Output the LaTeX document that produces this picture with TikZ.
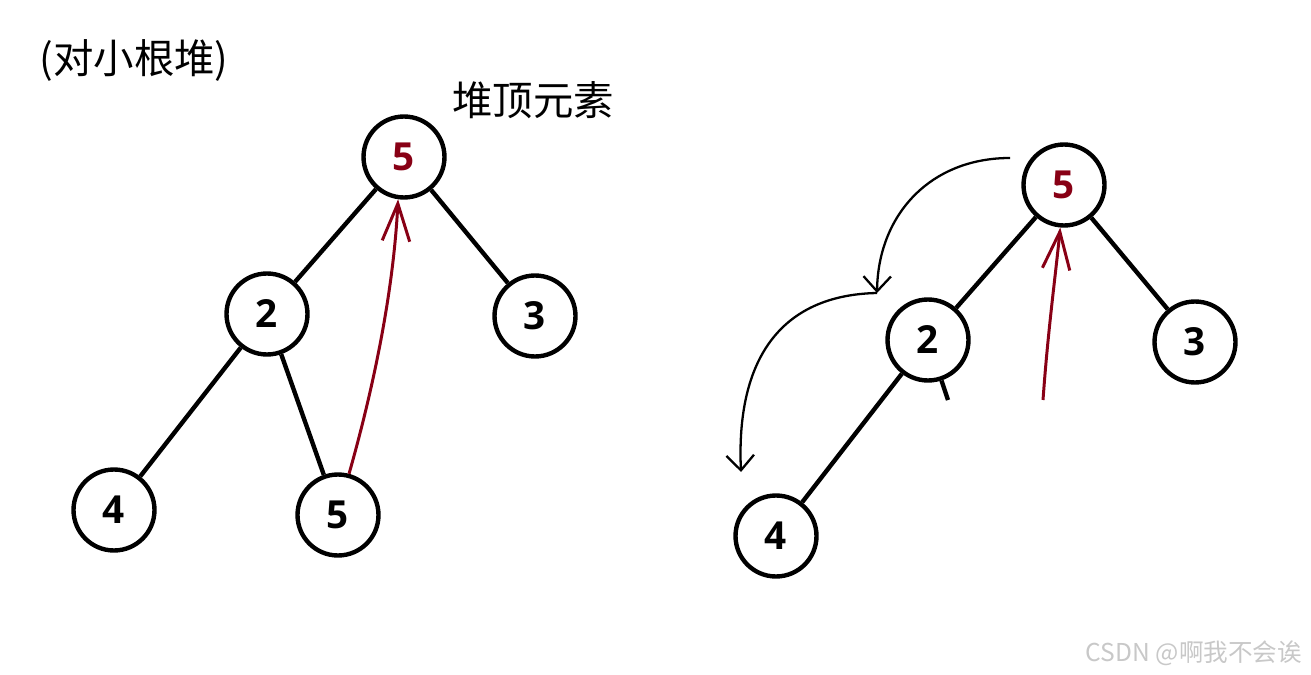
\documentclass[tikz,border=0pt]{standalone}
\usepackage{fontspec}
\setmainfont{Open Sans}
\newfontfamily\cjk{Noto Sans CJK SC}
\usetikzlibrary{arrows.meta}
\definecolor{HeapRed}{RGB}{136,0,21}
\definecolor{MarkGray}{RGB}{200,200,200}

\begin{document}
\begin{tikzpicture}[x=0.02cm, y=-0.02cm,
    tnode/.style={draw, circle, line width=2.5pt, fill=white, minimum size=1.62cm, inner sep=0pt, font=\bfseries\fontsize{22}{26}\selectfont},
    tedge/.style={line width=2.5pt},
    cnlabel/.style={font=\cjk\fontsize{23}{27}\selectfont, inner sep=0pt},
    redarrow/.style={draw=HeapRed, line width=1.7pt, -{Straight Barb[length=7.5mm, width=5.5mm]}},
    swaparrow/.style={line width=1.3pt, -{Straight Barb[length=3mm, width=5.5mm]}}
  ]
    \useasboundingbox (0,0) rectangle (1311,675);

    \node[cnlabel] (title) at (134,60) {(对小根堆)};
    \node[cnlabel] (toplabel) at (533,100) {堆顶元素};

    \node[tnode, text=HeapRed] (lroot) at (404,157) {5};
    \node[tnode] (ltwo) at (267,314) {2};
    \node[tnode] (lthree) at (535,316) {3};
    \node[tnode] (lfour) at (114,510) {4};
    \node[tnode] (lfive) at (338,515) {5};

    \draw[tedge] (lroot) -- (ltwo);
    \draw[tedge] (lroot) -- (lthree);
    \draw[tedge] (ltwo) -- (lfour);
    \draw[tedge] (ltwo) -- (lfive);
    \draw[redarrow] (lfive.75) .. controls (370,400) and (393,300) .. (lroot.262);

    \node[tnode, text=HeapRed] (rroot) at (1064,185) {5};
    \node[tnode] (rtwo) at (928,340) {2};
    \node[tnode] (rthree) at (1195,342) {3};
    \node[tnode] (rfour) at (776,536) {4};
    \coordinate (rcut) at (948,400);
    \coordinate (rstart) at (1043,400);
    \coordinate (swapa) at (1010,158);
    \coordinate (swapb) at (877,293);
    \coordinate (swapc) at (741,472);

    \draw[tedge] (rroot) -- (rtwo);
    \draw[tedge] (rroot) -- (rthree);
    \draw[tedge] (rtwo) -- (rfour);
    \draw[tedge] (rtwo) -- (rcut);
    \draw[redarrow] (rstart) .. controls (1048,330) and (1055,280) .. (rroot.265);
    \draw[swaparrow] (swapa) .. controls (930,158) and (878,215) .. (swapb);
    \draw[swaparrow] (swapb) .. controls (780,295) and (736,360) .. (swapc);

    \node[font=\cjk\fontsize{14}{16}\selectfont, text=MarkGray] (mark) at (1194,653) {CSDN @啊我不会诶};
  \end{tikzpicture}
\end{document}
